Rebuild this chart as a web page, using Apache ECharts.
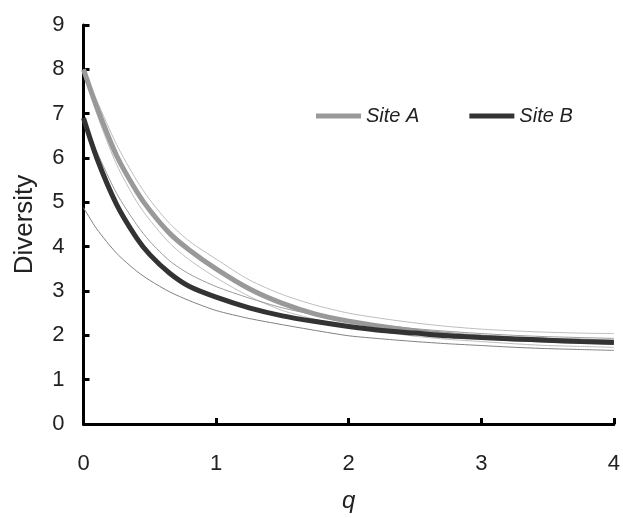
<!DOCTYPE html>
<html><head><meta charset="utf-8">
<script src="https://cdn.jsdelivr.net/npm/echarts@6/dist/echarts.min.js"></script>
<style>html,body{margin:0;padding:0;background:#fff}#c{width:623px;height:518px}</style>
</head><body><div id="c"></div>
<script>
const qValues = [0, 0.1, 0.25, 0.4, 0.5, 0.65, 0.8, 1.0, 1.25, 1.5, 1.75, 2.0, 2.25, 2.5, 2.75, 3.0, 3.25, 3.5, 3.75, 4.0];
const siteA      = [8.0, 7.15, 6.05, 5.25, 4.82, 4.3, 3.92, 3.5, 3.05, 2.72, 2.48, 2.32, 2.2, 2.1, 2.02, 1.96, 1.92, 1.89, 1.87, 1.85];
const siteAUpper = [8.0, 7.3, 6.3, 5.5, 5.06, 4.52, 4.12, 3.72, 3.25, 2.92, 2.68, 2.5, 2.38, 2.28, 2.2, 2.14, 2.1, 2.07, 2.05, 2.04];
const siteALower = [8.0, 7.0, 5.85, 5.02, 4.6, 4.08, 3.7, 3.3, 2.88, 2.56, 2.36, 2.2, 2.08, 1.98, 1.91, 1.86, 1.81, 1.77, 1.75, 1.73];
const siteB      = [6.9, 6.0, 4.95, 4.2, 3.82, 3.4, 3.1, 2.86, 2.62, 2.44, 2.31, 2.2, 2.11, 2.05, 1.99, 1.95, 1.92, 1.89, 1.86, 1.84];
const siteBUpper = [6.9, 6.15, 5.2, 4.5, 4.12, 3.68, 3.38, 3.1, 2.84, 2.62, 2.46, 2.33, 2.23, 2.15, 2.09, 2.04, 2.0, 1.97, 1.95, 1.93];
const siteBLower = [4.88, 4.4, 3.85, 3.45, 3.24, 2.98, 2.78, 2.56, 2.38, 2.24, 2.11, 1.99, 1.92, 1.86, 1.81, 1.77, 1.73, 1.7, 1.68, 1.66];
const xTicks = [0, 1, 2, 3, 4];
const yTicks = [0, 1, 2, 3, 4, 5, 6, 7, 8, 9];

const pairs = arr => qValues.map((q, i) => [q, arr[i]]);
const FONT = 'Liberation Sans, Arial, sans-serif';
function thin(name, arr, color) {
  return { name, type: 'line', data: pairs(arr), showSymbol: false, symbol: 'none', smooth: 0.25,
    lineStyle: { width: 1, color }, silent: true, z: 2 };
}
const chart = echarts.init(document.getElementById('c'), null, { renderer: 'canvas' });
chart.setOption({
  animation: false,
  backgroundColor: '#fff',
  grid: { left: 83.5, right: 7.5, top: 25, bottom: 92, containLabel: false },
  legend: {
    data: [{ name: 'Site A', icon: 'rect' }, { name: 'Site B', icon: 'rect' }],
    left: 311, top: 101, itemWidth: 45, itemHeight: 5, itemGap: 50,
    textStyle: { fontFamily: FONT, fontSize: 20, fontStyle: 'italic', color: '#222' }
  },
  xAxis: {
    type: 'value', min: 0, max: 4, interval: 1,
    name: 'q', nameLocation: 'middle', nameGap: 65,
    nameTextStyle: { fontFamily: FONT, fontSize: 24, fontStyle: 'italic', color: '#222' },
    axisLine: { show: true, lineStyle: { color: '#000', width: 3 } },
    axisTick: { show: true, inside: true, length: 6, lineStyle: { color: '#000', width: 3 } },
    axisLabel: { fontFamily: FONT, fontSize: 22, color: '#222', margin: 29, formatter: v => xTicks.includes(v) ? String(v) : '' },
    splitLine: { show: false }
  },
  yAxis: {
    type: 'value', min: 0, max: 9, interval: 1,
    name: 'Diversity', nameLocation: 'middle', nameGap: 46,
    nameTextStyle: { fontFamily: FONT, fontSize: 26, color: '#222' },
    axisLine: { show: true, lineStyle: { color: '#000', width: 3 } },
    axisTick: { show: true, inside: true, length: 6, lineStyle: { color: '#000', width: 3 } },
    axisLabel: { fontFamily: FONT, fontSize: 22, color: '#222', margin: 19, formatter: v => yTicks.includes(v) ? String(v) : '' },
    splitLine: { show: false }
  },
  series: [
    thin('A upper', siteAUpper, '#bdbdbd'),
    thin('A lower', siteALower, '#bdbdbd'),
    thin('B upper', siteBUpper, '#9a9a9a'),
    thin('B lower', siteBLower, '#808080'),
    { name: 'Site A', type: 'line', data: pairs(siteA), showSymbol: false, symbol: 'none', smooth: 0.25,
      color: '#999999', lineStyle: { width: 5, color: '#999999' }, z: 3 },
    { name: 'Site B', type: 'line', data: pairs(siteB), showSymbol: false, symbol: 'none', smooth: 0.25,
      color: '#333333', lineStyle: { width: 5, color: '#333333' }, z: 4 }
  ]
});
</script></body></html>
